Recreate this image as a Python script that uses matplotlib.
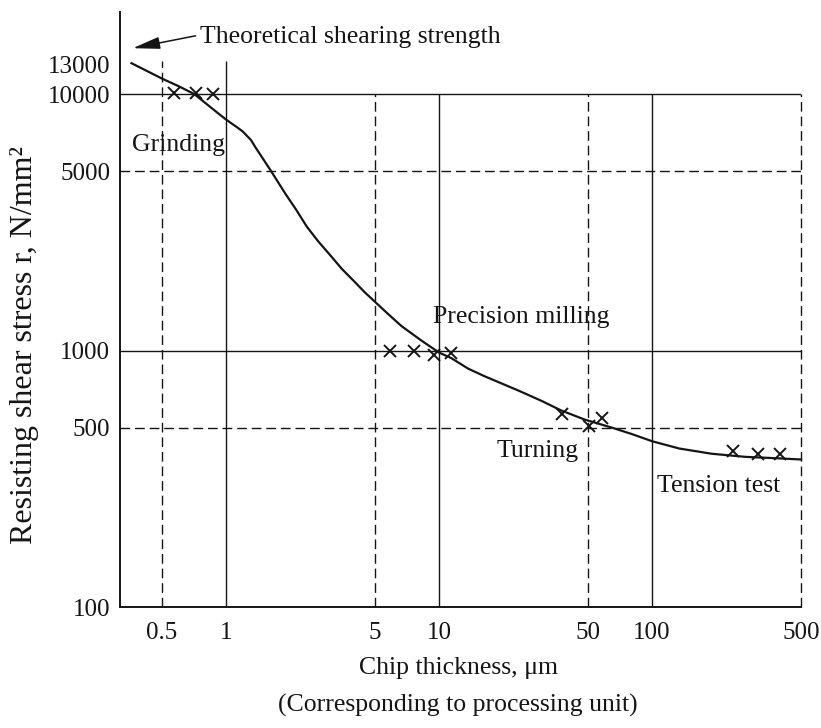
import matplotlib.pyplot as plt

plt.rcParams['font.family'] = ['Liberation Serif', 'DejaVu Serif']

# resisting shear stress curve: chip thickness (um) vs stress (N/mm^2)
curve_x = [0.36, 0.5, 0.6, 0.71, 0.90, 1.0, 1.13, 1.196, 1.31, 1.38, 1.46,
           1.62, 1.91, 2.14, 2.39, 2.7, 3.09, 3.5, 4.0, 4.47, 5.0, 5.8, 6.67,
           8.25, 10, 11.4, 13.7, 16.3, 19.6, 23.6, 30.2, 37.6, 48.3, 65, 80,
           100, 134, 190, 274, 390, 500]
curve_y = [13200, 11500, 10730, 10000, 8530, 7960, 7410, 7160, 6620, 6170, 5750,
           5040, 4060, 3530, 3050, 2675, 2350, 2080, 1860, 1690, 1550, 1382,
           1245, 1095, 982, 935, 850, 795, 745, 698, 637, 583, 538, 500, 473,
           443, 415, 396, 385, 380, 376]

# measured points per processing unit
grinding_x = [0.567, 0.72, 0.87]
grinding_y = [10100, 10100, 10000]
milling_x = [5.87, 7.6, 9.5, 11.4]
milling_y = [1000, 1000, 965, 976]
turning_x = [37.7, 50.5, 58.4]
turning_y = [567, 508, 547]
tension_x = [240, 315, 398]
tension_y = [407, 396, 396]

x_ticks = [0.5, 1, 5, 10, 50, 100, 500]
x_labels = ["0.5", "1", "5", "10", "50", "100", "500"]
y_ticks = [100, 500, 1000, 5000, 10000, 13000]
y_labels = ["100", "500", "1000", "5000", "10000", "13000"]

ink = '#151515'
fig = plt.figure(figsize=(8.21, 7.28), dpi=100)
ax = fig.add_axes([120 / 821, 121 / 728, 681 / 821, 595 / 728])
ax.set_xscale('log')
ax.set_yscale('log')
x0, x1 = 0.318, 500
ax.set_xlim(x0, x1)
ax.set_ylim(100, 20900)

# reference lines
dash = (0, (7, 3.5))
ax.hlines([1000, 10000], x0, x1, colors=ink, lw=1.0)
ax.hlines([500, 5000], x0, x1, colors=ink, lw=1.0, linestyles=[dash])
ax.vlines([1], 100, 13500, colors=ink, lw=1.0)
ax.vlines([10, 100], 100, 10000, colors=ink, lw=1.0)
ax.vlines([0.5], 100, 13500, colors=ink, lw=1.0, linestyles=[dash])
ax.vlines([5, 50], 100, 10000, colors=ink, lw=1.0, linestyles=[dash])
ax.vlines([500], 100, 10000, colors=ink, lw=1.0, linestyles=[dash], clip_on=False)

ax.plot(curve_x, curve_y, color=ink, lw=1.6, clip_on=False,
        solid_joinstyle='round')
for xs, ys in [(grinding_x, grinding_y), (milling_x, milling_y),
               (turning_x, turning_y), (tension_x, tension_y)]:
    ax.plot(xs, ys, 'x', ms=9, mew=1.4, color=ink)

# labels for each processing unit
fs = 18.5
ax.text(0.361, 6010, "Grinding", fontsize=fs, color=ink, va='baseline')
ax.text(9.37, 1286, "Precision milling", fontsize=fs, color=ink, va='baseline')
ax.text(18.6, 385, "Turning", fontsize=fs, color=ink, va='baseline')
ax.text(105.5, 280, "Tension test", fontsize=fs, color=ink, va='baseline')
ax.annotate("Theoretical shearing strength", xy=(0.365, 15100),
            xytext=(0.753, 15800), fontsize=fs, color=ink, va='baseline',
            annotation_clip=False,
            arrowprops=dict(arrowstyle='-|>,head_length=0.9,head_width=0.2',
                            color=ink, lw=1.1, shrinkA=1, shrinkB=0,
                            relpos=(0, 0.6)))

for side in ['top', 'right']:
    ax.spines[side].set_visible(False)
for side in ['left', 'bottom']:
    ax.spines[side].set_linewidth(1.4)
    ax.spines[side].set_color(ink)

ax.set_xticks(x_ticks)
ax.set_xticklabels(x_labels)
ax.set_yticks(y_ticks)
ax.set_yticklabels(y_labels)
ax.minorticks_off()
ax.tick_params(axis='both', length=0, labelsize=18, labelcolor=ink)
ax.tick_params(axis='x', pad=11)
ax.tick_params(axis='y', pad=7)

fig.text(458 / 821, 1 - 668 / 728, "Chip thickness, μm", fontsize=fs,
         color=ink, ha='center', va='center')
fig.text(458 / 821, 1 - 705 / 728, "(Corresponding to processing unit)",
         fontsize=fs, color=ink, ha='center', va='center')
fig.text(25 / 821, 1 - 345 / 728, "Resisting shear stress r, N/mm²",
         fontsize=23, color=ink, ha='center', va='center', rotation=90)

fig.savefig('out.png', dpi=100, facecolor='white')
